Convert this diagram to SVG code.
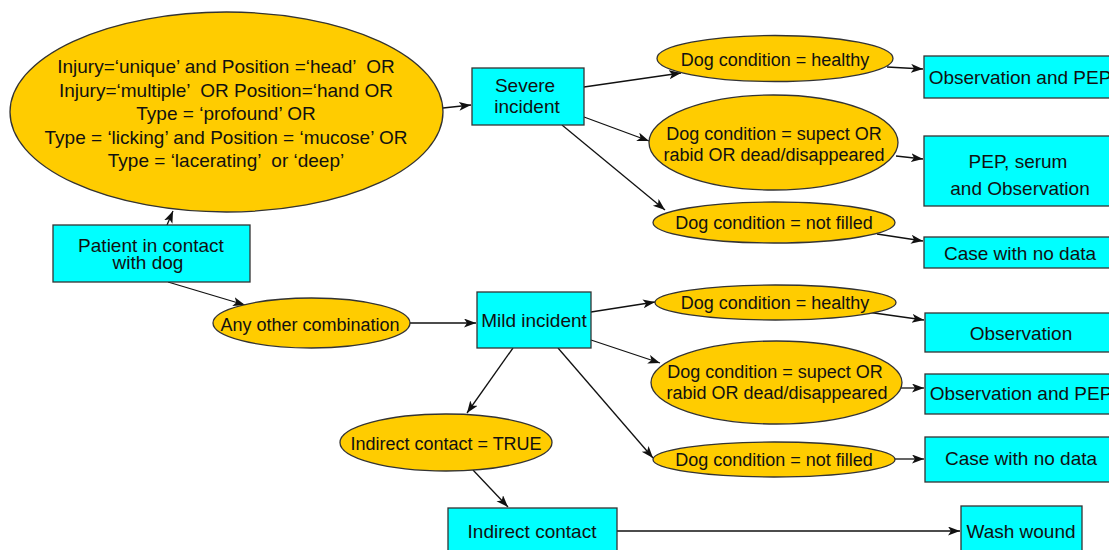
<svg xmlns="http://www.w3.org/2000/svg" width="1109" height="550" viewBox="0 0 1109 550">
<defs>
<marker id="arr" markerUnits="userSpaceOnUse" markerWidth="14" markerHeight="10" refX="12" refY="4.5" orient="auto">
<path d="M0,0 L12,4.5 L0,9 L3,4.5 z" fill="#111"/>
</marker>
<style>
.box{fill:#00FFFF;stroke:#333;stroke-width:1.3}
.ell{fill:#FFCC00;stroke:#333;stroke-width:1.3}
.t{font-family:"Liberation Sans",Arial,sans-serif;font-size:18px;fill:#111;text-anchor:middle}
.tb{font-family:"Liberation Sans",Arial,sans-serif;font-size:19px;fill:#111;text-anchor:middle}
.pre{white-space:pre}
.c{fill:none;stroke:#111;stroke-width:1.3;marker-end:url(#arr)}
</style>
</defs>
<rect width="1109" height="550" fill="#fff"/>
<g id="connectors">
<line class="c" x1="167" y1="225" x2="173" y2="211"/>
<line class="c" x1="443" y1="108" x2="471" y2="105"/>
<line class="c" x1="584" y1="87" x2="681" y2="73"/>
<line class="c" x1="584" y1="117" x2="649" y2="141"/>
<line class="c" x1="562" y1="125" x2="665" y2="210"/>
<line class="c" x1="887" y1="67" x2="923" y2="69"/>
<line class="c" x1="896" y1="156" x2="923" y2="159"/>
<line class="c" x1="877" y1="234" x2="923" y2="241"/>
<line class="c" x1="168" y1="282" x2="245" y2="305"/>
<line class="c" x1="410" y1="323" x2="476" y2="323"/>
<line class="c" x1="591" y1="312" x2="655" y2="302"/>
<line class="c" x1="591" y1="340" x2="660" y2="363"/>
<line class="c" x1="558" y1="348" x2="653" y2="458"/>
<line class="c" x1="513" y1="348" x2="467" y2="413"/>
<line class="c" x1="473" y1="470" x2="508" y2="507"/>
<line class="c" x1="867" y1="312" x2="924" y2="320"/>
<line class="c" x1="901" y1="388" x2="924" y2="388"/>
<line class="c" x1="894" y1="459" x2="924" y2="459"/>
<line class="c" x1="617" y1="531" x2="960" y2="531"/>
</g>
<g id="criteria">
<ellipse class="ell" cx="226.5" cy="112" rx="216.5" ry="100"/>
<text class="tb pre" x="226" y="73">Injury=‘unique’ and Position =‘head’  OR</text>
<text class="tb pre" x="226" y="96.5">Injury=‘multiple’  OR Position=‘hand OR</text>
<text class="tb" x="226" y="120">Type = ‘profound’ OR</text>
<text class="tb" x="226" y="143.5">Type = ‘licking’ and Position = ‘mucose’ OR</text>
<text class="tb pre" x="226" y="167">Type = ‘lacerating’  or ‘deep’</text>
</g>
<g id="patient">
<rect class="box" x="53" y="225" width="197" height="57"/>
<text class="tb" x="151" y="252">Patient in contact</text>
<text class="tb" x="148" y="269">with dog</text>
</g>
<g id="severe">
<rect class="box" x="472" y="68" width="112" height="57"/>
<text class="tb" x="525" y="92">Severe</text>
<text class="tb" x="527" y="113">incident</text>
</g>
<g id="sev-healthy">
<ellipse class="ell" cx="775" cy="58.5" rx="118" ry="23"/>
<text class="t" x="775" y="66">Dog condition = healthy</text>
</g>
<g id="sev-suspect">
<ellipse class="ell" cx="773.5" cy="142.5" rx="124.5" ry="47.5"/>
<text class="t" x="774" y="140">Dog condition = supect OR</text>
<text class="t" x="774" y="161">rabid OR dead/disappeared</text>
</g>
<g id="sev-notfilled">
<ellipse class="ell" cx="774" cy="222.5" rx="121" ry="20.5"/>
<text class="t" x="774" y="229">Dog condition = not filled</text>
</g>
<g id="obs-pep-1">
<rect class="box" x="924" y="56" width="195" height="42"/>
<text class="tb" x="1020" y="84">Observation and PEP</text>
</g>
<g id="pep-serum">
<rect class="box" x="924" y="136" width="195" height="70"/>
<text class="tb" x="1018" y="168">PEP, serum</text>
<text class="tb" x="1020" y="195">and Observation</text>
</g>
<g id="case-1">
<rect class="box" x="924" y="237" width="195" height="31"/>
<text class="tb" x="1020" y="260">Case with no data</text>
</g>
<g id="any-other">
<ellipse class="ell" cx="311.5" cy="323" rx="98.5" ry="25"/>
<text class="t" x="310" y="331">Any other combination</text>
</g>
<g id="mild">
<rect class="box" x="477" y="292" width="114" height="56"/>
<text class="tb" x="534" y="327">Mild incident</text>
</g>
<g id="mild-healthy">
<ellipse class="ell" cx="775.5" cy="302.5" rx="120.5" ry="17.5"/>
<text class="t" x="775" y="309">Dog condition = healthy</text>
</g>
<g id="mild-suspect">
<ellipse class="ell" cx="776.5" cy="382.5" rx="125.5" ry="41.5"/>
<text class="t" x="775" y="378">Dog condition = supect OR</text>
<text class="t" x="777" y="399">rabid OR dead/disappeared</text>
</g>
<g id="mild-notfilled">
<ellipse class="ell" cx="774" cy="459.5" rx="121" ry="17.5"/>
<text class="t" x="774" y="466">Dog condition = not filled</text>
</g>
<g id="observation">
<rect class="box" x="925" y="313" width="195" height="39"/>
<text class="tb" x="1021" y="340">Observation</text>
</g>
<g id="obs-pep-2">
<rect class="box" x="925" y="374" width="195" height="40"/>
<text class="tb" x="1021" y="400">Observation and PEP</text>
</g>
<g id="case-2">
<rect class="box" x="925" y="437" width="195" height="45"/>
<text class="tb" x="1021" y="465">Case with no data</text>
</g>
<g id="indirect-true">
<ellipse class="ell" cx="446" cy="442.5" rx="106" ry="28.5"/>
<text class="t" x="446" y="450">Indirect contact = TRUE</text>
</g>
<g id="indirect-contact">
<rect class="box" x="448" y="508" width="169" height="50"/>
<text class="tb" x="532" y="538">Indirect contact</text>
</g>
<g id="wash-wound">
<rect class="box" x="961" y="506" width="121" height="50"/>
<text class="tb" x="1021" y="538">Wash wound</text>
</g>
</svg>
